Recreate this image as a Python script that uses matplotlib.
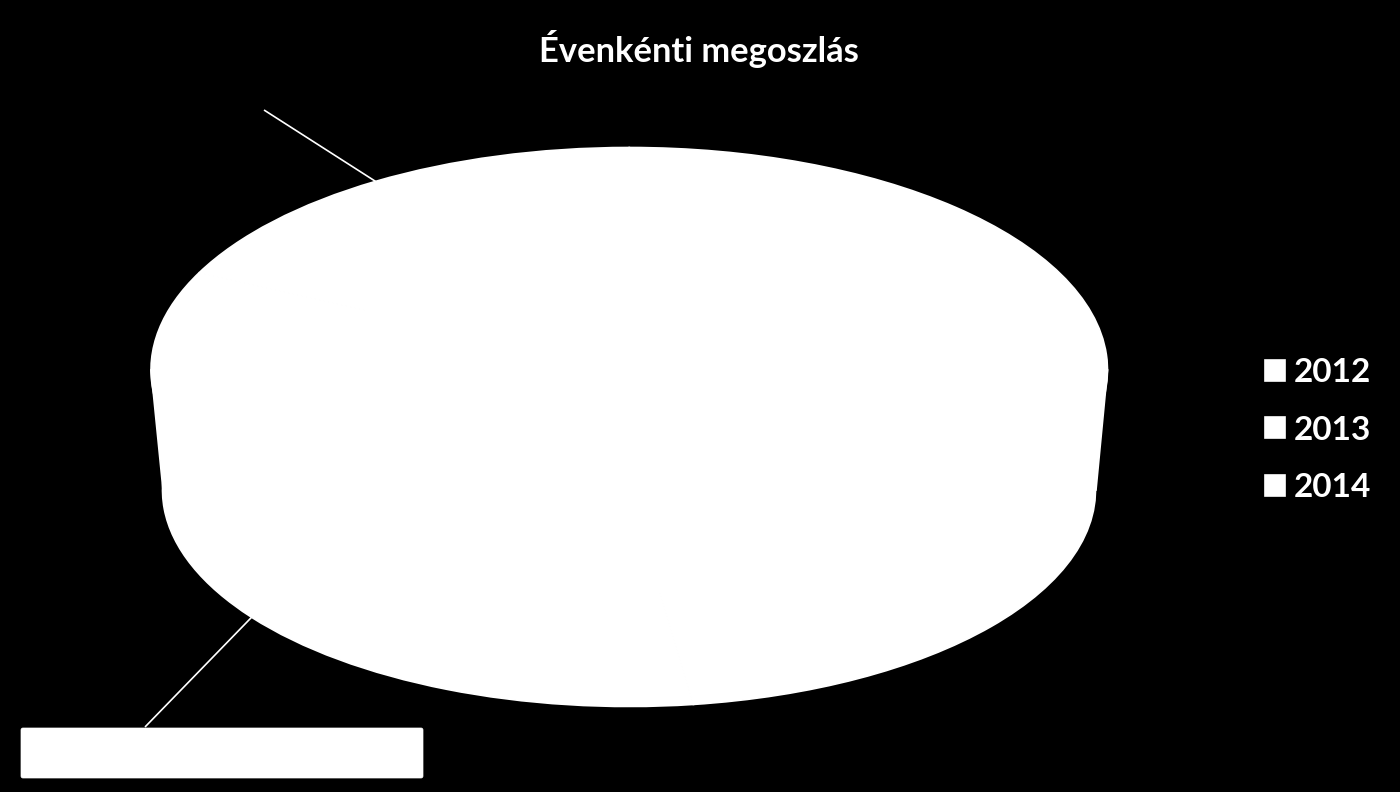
import numpy as np
import matplotlib
matplotlib.use("Agg")
import matplotlib.pyplot as plt
from matplotlib.patches import Polygon, FancyBboxPatch

plt.rcParams['font.family'] = ['Lato', 'DejaVu Sans']

# ---- data ----
title = "Évenkénti megoszlás"
years = ["2012", "2013", "2014"]
shares = [47.8, 34.4, 17.8]
slice_colors = ["#FFFFFF", "#FFFFFF", "#FFFFFF"]

W, H = 1400, 792
fig = plt.figure(figsize=(W / 100, H / 100), dpi=100, facecolor="black")

def px_axes(x0, y0, x1, y1, **kw):
    # axes from pixel box (top-left origin)
    return fig.add_axes([x0 / W, 1 - y1 / H, (x1 - x0) / W, (y1 - y0) / H], **kw)

# overlay axes in pixel coordinates
over = fig.add_axes([0, 0, 1, 1], zorder=0)
over.set_xlim(0, W)
over.set_ylim(H, 0)
over.axis("off")

wprops = dict(edgecolor="white", linewidth=1.2, antialiased=True)

# bottom (side) face of the 3D pie
ax_bot = px_axes(162.5, 273.5, 1095.5, 706.5, zorder=1)
ax_bot.patch.set_alpha(0)
wb, _ = ax_bot.pie(shares, colors=slice_colors, startangle=90, counterclock=False,
                   wedgeprops=wprops)
ax_bot.set_aspect("auto")
ax_bot.set_xlim(-1, 1)
ax_bot.set_ylim(-1, 1)
ax_bot.axis("off")

# side wall connecting both faces
over.add_patch(Polygon([(151, 370), (1107.5, 370), (1096, 490), (163, 490)],
                       closed=True, facecolor="white", edgecolor="white", lw=1.2, zorder=1))

# top face
ax_top = px_axes(151, 147.5, 1107.5, 592.5, zorder=2)
ax_top.patch.set_alpha(0)
wt, _ = ax_top.pie(shares, colors=slice_colors, startangle=90, counterclock=False,
                   wedgeprops=wprops)
ax_top.set_aspect("auto")
ax_top.set_xlim(-1, 1)
ax_top.set_ylim(-1, 1)
ax_top.axis("off")

# leader lines: start at slice mid-angle on the pie edge
lead = fig.add_axes([0, 0, 1, 1], zorder=3)
lead.set_xlim(0, W)
lead.set_ylim(H, 0)
lead.axis("off")
fig.canvas.draw()
inv = lead.transData.inverted()

def edge_point(ax, wedge):
    a = np.deg2rad((wedge.theta1 + wedge.theta2) / 2)
    disp = ax.transData.transform((np.cos(a), np.sin(a)))
    return inv.transform(disp)

# 2014 label leader (top-left), 2013 label leader (bottom-left)
p14 = edge_point(ax_top, wt[2])
p13 = edge_point(ax_bot, wb[1])
lead.plot([p14[0], 264], [p14[1], 110], color="white", lw=1.2, solid_capstyle="butt")
lead.plot([p13[0], 145], [p13[1], 727], color="white", lw=1.2, solid_capstyle="butt")

# label box for 2013
lead.add_patch(FancyBboxPatch((21, 728), 402, 50,
                              boxstyle="round,pad=0,rounding_size=2",
                              facecolor="white", edgecolor="white", lw=0.5))

# title
fig.text(699 / W, 1 - 49 / H, title, color="white", fontsize=24.8, fontweight="bold",
         ha="center", va="center")

# legend
leg = fig.legend(wt, years, loc="center left", bbox_to_anchor=(1265 / W, 1 - 430 / H),
                 frameon=False, fontsize=24, labelcolor="white",
                 handlelength=0.6, handleheight=0.6, handletextpad=0.25,
                 labelspacing=0.86, borderaxespad=0, borderpad=0)
for t in leg.get_texts():
    t.set_fontweight("bold")

fig.savefig("out.png", dpi=100, facecolor="black")
